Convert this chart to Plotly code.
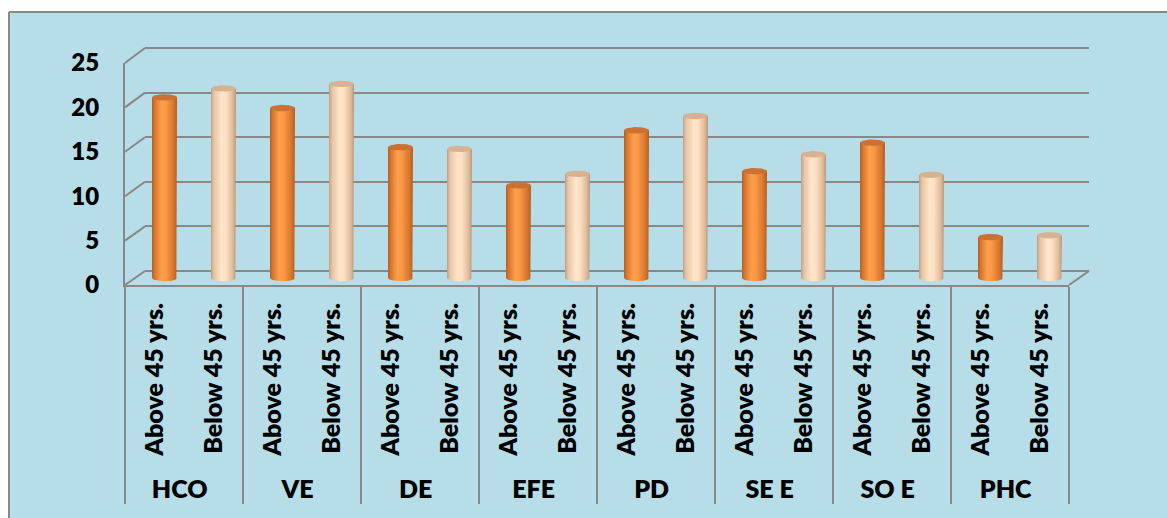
import numpy as np
import plotly.graph_objects as go

# ---------------- data ----------------
groups = ["HCO", "VE", "DE", "EFE", "PD", "SE E", "SO E", "PHC"]
subgroups = ["Above 45 yrs.", "Below 45 yrs."]
above_45 = [20.3, 19.1, 14.7, 10.4, 16.6, 12.0, 15.2, 4.6]
below_45 = [21.3, 21.8, 14.5, 11.7, 18.2, 13.9, 11.6, 4.8]
y_ticks = [0, 5, 10, 15, 20, 25]

# ---------------- styling ----------------
W, H = 1167, 518
BG = "#B7DDE8"
GRID = "#888888"
X_FONT = dict(family="Lato", size=25, color="#000000", weight=800)
Y_FONT = dict(family="Lato", size=24, color="#000000", weight=800)
ORANGE_SCALE = [[0, "#B85F1E"], [0.12, "#D8782F"], [0.38, "#FF9E4B"], [0.55, "#FB9945"],
                [0.85, "#D77630"], [1, "#B0601F"]]
PEACH_SCALE = [[0, "#BF9F82"], [0.12, "#E6C4A4"], [0.42, "#FFE5CA"], [0.6, "#FFE0C3"],
               [0.87, "#DDBA99"], [1, "#B8977A"]]
ORANGE_CAP = "#CC7132"
PEACH_CAP = "#D6B292"


def px_x(p):
    return p / W


def px_y(p):
    return 1 - p / H


# plane geometry (pixels)
FRONT_X, FRONT_Y0, FRONT_Y25 = (125, 1069), 285, 63
BACK_X, BACK_Y0, BACK_Y25 = (145, 1089), 271, 48
BAR_X, BAR_Y0, BAR_Y25 = (135, 1079), 278, 55.5
Y_MAX = 25
bar_ppu = (BAR_Y0 - BAR_Y25) / Y_MAX
back_ppu = (BACK_Y0 - BACK_Y25) / Y_MAX
BAR_YMIN = -1.0
BACK_PAD = 0.3

n_slots = len(groups) * len(subgroups)
slot_px = (BAR_X[1] - BAR_X[0]) / n_slots

fig = go.Figure()

# invisible trace carrying the two-level category axis
cat_x = [[g for g in groups for _ in subgroups], [s for _ in groups for s in subgroups]]
cat_y = [v for pair in zip(above_45, below_45) for v in pair]
fig.add_trace(go.Scatter(x=cat_x, y=cat_y, mode="markers", marker_opacity=0, hoverinfo="skip",
                         showlegend=False, xaxis="x", yaxis="y"))

# invisible trace for back wall subplot
fig.add_trace(go.Scatter(x=[0, 1], y=[0, 25], mode="markers", marker_opacity=0,
                         hoverinfo="skip", showlegend=False, xaxis="x2", yaxis="y2"))

# cylinders
half_w = 12.5 / slot_px          # in slot units
ell_h = 3.2 / bar_ppu            # in value units
t = np.linspace(0, np.pi, 40)
tt = np.linspace(0, 2 * np.pi, 60)

for gi, (a, b) in enumerate(zip(above_45, below_45)):
    for si, (val, scale, cap) in enumerate([(a, ORANGE_SCALE, ORANGE_CAP), (b, PEACH_SCALE, PEACH_CAP)]):
        c = gi * 2 + si
        bx = [c - half_w, c - half_w, c + half_w, c + half_w] + list(c + half_w * np.cos(t))
        by = [0, val, val, 0] + list(-ell_h * np.sin(t))
        fig.add_trace(go.Scatter(
            x=bx, y=by, fill="toself", mode="lines", line=dict(width=0),
            fillgradient=dict(type="horizontal", colorscale=scale),
            hoverinfo="skip", showlegend=False, xaxis="x3", yaxis="y3"))
        fig.add_trace(go.Scatter(
            x=list(c + half_w * np.cos(tt)), y=list(val + ell_h * np.sin(tt)),
            fill="toself", mode="lines", line=dict(width=0), fillcolor=cap,
            hoverinfo="skip", showlegend=False, xaxis="x3", yaxis="y3"))

shapes = []
# white strips outside the chart area + border
shapes.append(dict(type="rect", xref="paper", yref="paper", x0=-0.01, x1=1.01,
                   y0=px_y(12), y1=1.01, fillcolor="#FFFFFF", line_width=0, layer="below"))
shapes.append(dict(type="rect", xref="paper", yref="paper", x0=-0.01, x1=px_x(9),
                   y0=-0.01, y1=1.01, fillcolor="#FFFFFF", line_width=0, layer="below"))
shapes.append(dict(type="line", xref="paper", yref="paper", x0=px_x(9), x1=1.02,
                   y0=px_y(12), y1=px_y(12), line=dict(color=GRID, width=2), layer="below"))
shapes.append(dict(type="line", xref="paper", yref="paper", x0=px_x(9), x1=px_x(9),
                   y0=-0.02, y1=px_y(12), line=dict(color=GRID, width=2), layer="below"))


def y_front(v):
    return px_y(FRONT_Y0 - v / Y_MAX * (FRONT_Y0 - FRONT_Y25))


def y_back(v):
    return px_y(BACK_Y0 - v / Y_MAX * (BACK_Y0 - BACK_Y25))


for v in y_ticks:
    shapes.append(dict(type="line", xref="paper", yref="paper",
                       x0=px_x(FRONT_X[0]), y0=y_front(v), x1=px_x(BACK_X[0]), y1=y_back(v),
                       line=dict(color=GRID, width=2), layer="below"))
shapes.append(dict(type="line", xref="paper", yref="paper",
                   x0=px_x(FRONT_X[1]), y0=y_front(0), x1=px_x(BACK_X[1]), y1=y_back(0),
                   line=dict(color=GRID, width=2), layer="below"))

fig.update_layout(
    width=W, height=H,
    margin=dict(l=0, r=0, t=0, b=0, autoexpand=False),
    paper_bgcolor=BG,
    plot_bgcolor="rgba(0,0,0,0)",
    showlegend=False,
    shapes=shapes,
    xaxis=dict(domain=[px_x(FRONT_X[0]), px_x(FRONT_X[1])], anchor="y", type="multicategory",
               range=[-0.5, n_slots - 0.5],
               showline=True, linecolor=GRID, linewidth=2, tickangle=-90, tickfont=X_FONT,
               showdividers=True, dividercolor=GRID, dividerwidth=2, showgrid=False,
               zeroline=False, ticks="", automargin=False, ticklabelstandoff=6),
    yaxis=dict(domain=[px_y(FRONT_Y0), px_y(FRONT_Y25)], anchor="x", range=[0, Y_MAX],
               tickvals=y_ticks, showline=True, linecolor=GRID, linewidth=2, showgrid=False,
               zeroline=False, ticks="", tickfont=Y_FONT, ticklabelstandoff=19, automargin=False),
    xaxis2=dict(domain=[px_x(BACK_X[0]), px_x(BACK_X[1])], anchor="y2", range=[0, 1],
                visible=False, automargin=False),
    yaxis2=dict(domain=[px_y(BACK_Y0 + BACK_PAD * back_ppu), px_y(BACK_Y25 - BACK_PAD * back_ppu)],
                anchor="x2", range=[-BACK_PAD, Y_MAX + BACK_PAD],
                tickvals=y_ticks, showgrid=True, gridcolor=GRID, gridwidth=2,
                zeroline=False, showticklabels=False,
                showline=False, ticks="", automargin=False),
    xaxis3=dict(domain=[px_x(BAR_X[0]), px_x(BAR_X[1])], anchor="y3",
                range=[-0.5, n_slots - 0.5], visible=False, automargin=False),
    yaxis3=dict(domain=[px_y(BAR_Y0 - BAR_YMIN * bar_ppu), px_y(BAR_Y25)], anchor="x3",
                range=[BAR_YMIN, Y_MAX], visible=False, automargin=False),
)

fig.write_html("out.html")
